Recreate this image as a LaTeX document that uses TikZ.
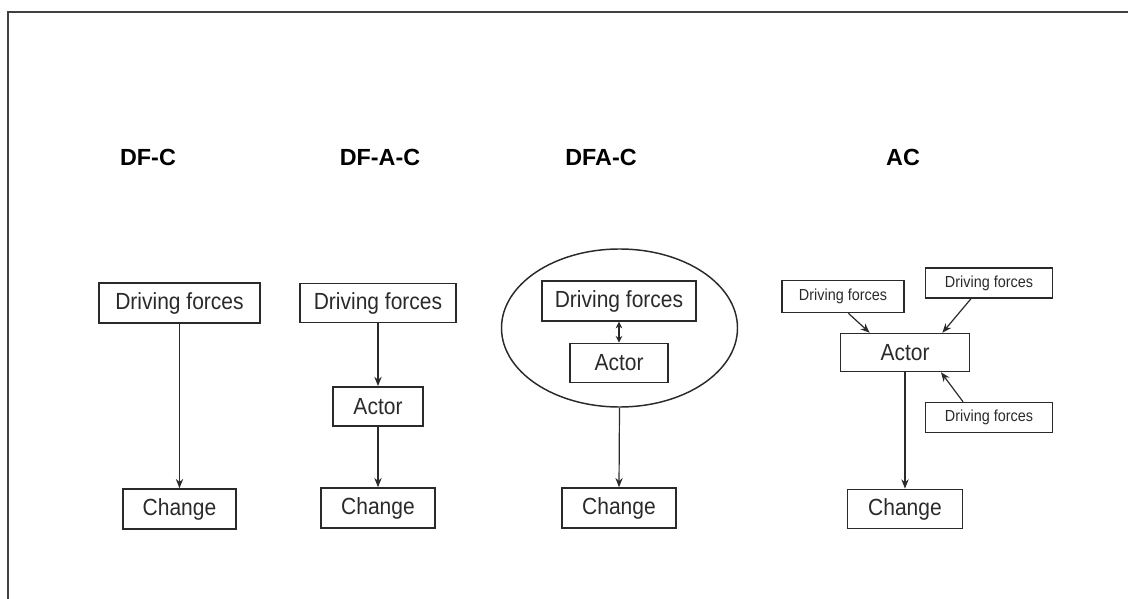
\documentclass[tikz,border=0pt]{standalone}
\usepackage{fontspec}
\setmainfont{Liberation Sans}[FakeStretch=0.9]
\newfontfamily\titlefont{Liberation Sans}
\usetikzlibrary{shapes.geometric,arrows.meta,calc}
\definecolor{ink}{HTML}{2A2A2A}
\tikzset{
  bx/.style={draw=ink, line width=1.1pt, inner sep=0pt, text=ink, font=\fontsize{17.5}{20}\selectfont},
  smallbx/.style={bx, font=\fontsize{12}{14}\selectfont},
  ttl/.style={text=black, font=\titlefont\bfseries\fontsize{17.5}{20}\selectfont},
  arr/.style={draw=ink, line width=0.9pt, -{Stealth[length=7pt,width=5.5pt]}},
  darr/.style={draw=ink, line width=0.9pt, {Stealth[length=5pt,width=5pt]}-{Stealth[length=5pt,width=5pt]}},
  frame/.style={draw=black!75, line width=1.5pt}
}
\begin{document}
\begin{tikzpicture}[x=0.75pt,y=-0.75pt]
\useasboundingbox (0,0) rectangle (1128,599);
\draw[frame] (1128,12) -- (8,12) -- (8,599);

% titles
\node[ttl] (t1) at (148,157) {DF-C};
\node[ttl] (t2) at (380,157) {DF-A-C};
\node[ttl] (t3) at (601,157) {DFA-C};
\node[ttl] (t4) at (903,157) {AC};

% DF-C
\node[bx, minimum width=120.75pt, minimum height=30pt] (df1) at (179.5,303) {Driving forces};
\node[bx, minimum width=85pt, minimum height=30pt] (ch1) at (179.5,509) {Change};
\draw[arr] (df1.south) -- (ch1.north);

% DF-A-C
\node[bx, minimum width=117pt, minimum height=29.5pt] (df2) at (378,303) {Driving forces};
\node[bx, minimum width=67.5pt, minimum height=29.5pt] (ac2) at (378,406.5) {Actor};
\node[bx, minimum width=85.5pt, minimum height=30pt] (ch2) at (378,508) {Change};
\draw[arr] (df2.south) -- (ac2.north);
\draw[arr] (ac2.south) -- (ch2.north);

% DFA-C
\node[draw=ink, line width=1.1pt, ellipse, minimum width=177pt, minimum height=118.5pt, inner sep=0pt] (ell) at (619.5,328) {};
\node[bx, minimum width=115.5pt, minimum height=30pt] (df3) at (619,301) {Driving forces};
\node[bx, minimum width=73.5pt, minimum height=29.5pt] (ac3) at (619,363) {Actor};
\node[bx, minimum width=85.5pt, minimum height=30pt] (ch3) at (619,508) {Change};
\draw[darr] (df3.south) -- (ac3.north);
\draw[arr] (ell.south) -- (ch3.north);

% AC
\node[bx, minimum width=96.75pt, minimum height=28.5pt] (ac4) at (905,352.5) {Actor};
\node[smallbx, minimum width=91.5pt, minimum height=24pt] (dfl) at (843,296.5) {Driving forces};
\node[smallbx, minimum width=95.25pt, minimum height=22.5pt] (dftr) at (989,283) {Driving forces};
\node[smallbx, minimum width=95.25pt, minimum height=22.5pt] (dfbr) at (989,417.5) {Driving forces};
\node[bx, minimum width=86pt, minimum height=29.5pt] (ch4) at (905,509) {Change};
\draw[arr] ([xshift=4pt]dfl.south) -- ([xshift=-26.5pt]ac4.north);
\draw[arr] ([xshift=-13.5pt]dftr.south) -- ([xshift=28pt]ac4.north);
\draw[arr] ([xshift=-19.5pt]dfbr.north) -- ([xshift=27pt]ac4.south);
\draw[arr] (ac4.south) -- (ch4.north);
\end{tikzpicture}
\end{document}
